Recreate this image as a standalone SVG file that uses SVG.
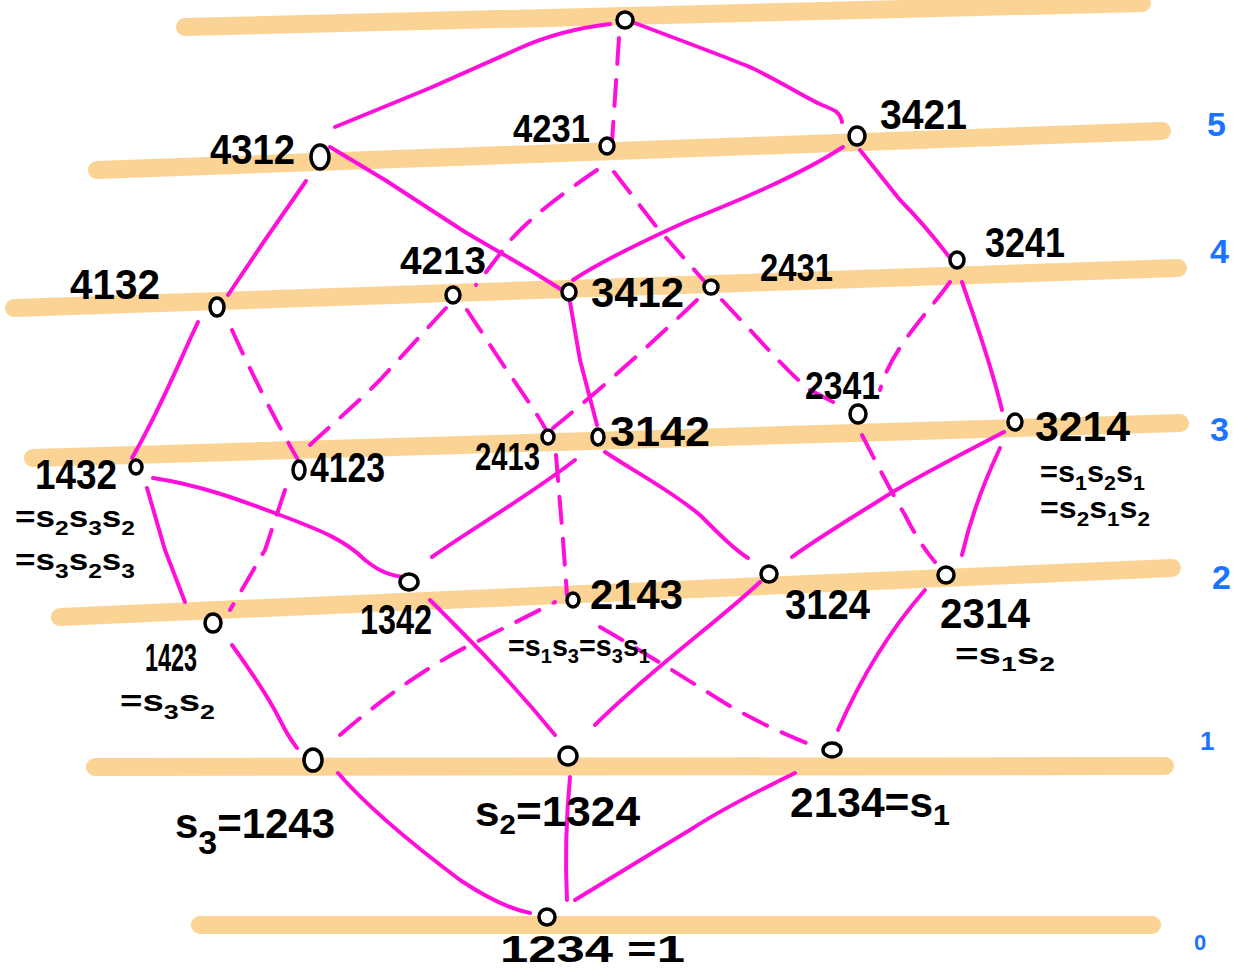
<svg xmlns="http://www.w3.org/2000/svg" width="1244" height="970" viewBox="0 0 1244 970">
<style>
.band{stroke:#FBD495;stroke-width:18;stroke-linecap:round;fill:none}
.e{stroke:#FF10DA;stroke-width:4;stroke-linecap:round;stroke-linejoin:round;fill:none}
.d{stroke-dasharray:26 16}
.n{fill:#fff;stroke:#000;stroke-width:3.5}
.t{font-family:"Liberation Sans",Arial,sans-serif;font-weight:bold;font-size:42px;fill:#000}
.m{font-size:38px}
.s{font-size:30px}
.lv{font-family:"Liberation Sans",Arial,sans-serif;font-weight:bold;font-size:34px;fill:#1A74FF}
</style>
<rect width="1244" height="970" fill="#fff"/>
<g id="bands">
<line class="band" x1="185" y1="27" x2="1142" y2="3"/>
<line class="band" x1="97" y1="170" x2="1162" y2="131"/>
<line class="band" x1="14" y1="308" x2="1178" y2="268"/>
<line class="band" x1="33" y1="458" x2="1180" y2="423"/>
<line class="band" x1="60" y1="617" x2="1172" y2="568"/>
<line class="band" x1="95" y1="767" x2="1165" y2="766"/>
<line class="band" x1="200" y1="925" x2="1152" y2="925"/>
</g>
<g id="levels">
<text class="lv" x="1207" y="136">5</text>
<text class="lv" x="1210" y="263">4</text>
<text class="lv" x="1210" y="441">3</text>
<text class="lv" x="1212" y="589">2</text>
<text class="lv" x="1200" y="750" style="font-size:26px">1</text>
<text class="lv" x="1194" y="950" style="font-size:22px">0</text>
</g>
<g id="connectors">
<path class="e" d="M610,24 Q560,30 520,48 L430,88 L335,127"/>
<path class="e d" d="M619,38 L612,142"/>
<path class="e" d="M632,22 C680,40 720,55 745,65 C770,75 800,95 822,105 C835,110 840,112 842,122"/>
<path class="e" d="M306,181 L265,240 L228,295"/>
<path class="e" d="M330,147 L385,180 L465,232 L530,270 L562,290"/>
<path class="e d" d="M597,170 C560,195 520,225 503,250 L476,285"/>
<path class="e d" d="M614,172 L655,225 L705,282"/>
<path class="e" d="M843,147 C800,175 740,200 690,220 C650,238 600,262 573,280"/>
<path class="e" d="M860,150 L900,200 C925,225 940,245 950,258"/>
<path class="e" d="M198,322 C180,360 160,410 132,458"/>
<path class="e d" d="M232,330 C250,370 275,420 297,458"/>
<path class="e d" d="M446,308 L380,380 C350,410 320,435 310,445"/>
<path class="e d" d="M467,310 L500,360 C520,390 535,410 545,428"/>
<path class="e" d="M570,302 L580,360 L597,425"/>
<path class="e d" d="M697,300 C650,345 600,390 553,428"/>
<path class="e d" d="M722,300 C760,340 790,375 810,390 L845,408"/>
<path class="e d" d="M950,282 C930,310 900,340 885,375 L880,390"/>
<path class="e" d="M962,282 C975,320 990,360 1002,410"/>
<path class="e" d="M147,488 L165,550 L185,602"/>
<path class="e" d="M153,478 C200,485 240,500 280,515 C320,530 345,540 365,560 C380,572 390,575 402,577"/>
<path class="e d" d="M285,490 L265,550 L230,610"/>
<path class="e" d="M575,460 C530,495 470,530 432,557"/>
<path class="e d" d="M556,455 L563,540 L567,595"/>
<path class="e" d="M605,452 C640,475 670,490 700,515 C720,535 735,550 748,558"/>
<path class="e d" d="M862,435 C875,460 890,490 905,515 C915,535 925,550 935,562"/>
<path class="e" d="M1004,432 C960,455 910,480 880,500 C840,525 815,540 792,557"/>
<path class="e" d="M1000,448 C985,480 970,520 962,555"/>
<path class="e" d="M232,645 C250,670 270,700 280,720 C290,740 295,745 297,748"/>
<path class="e d" d="M340,735 C380,700 430,665 470,645 C510,625 540,610 555,602"/>
<path class="e" d="M430,600 C470,640 510,680 555,735"/>
<path class="e d" d="M600,627 C640,650 680,675 720,700 C760,725 800,740 818,748"/>
<path class="e" d="M760,582 C720,620 650,670 595,725"/>
<path class="e" d="M925,590 C890,630 860,680 838,730"/>
<path class="e" d="M338,773 C370,810 420,850 460,880 C490,900 515,910 530,913"/>
<path class="e" d="M570,777 C566,820 565,860 567,900"/>
<path class="e" d="M795,773 C760,790 720,810 690,830 C640,860 600,885 575,900"/>
</g>
<g id="n4321"><ellipse class="n" cx="625" cy="20" rx="8" ry="8"/></g>
<g id="n4312"><ellipse class="n" cx="320" cy="157" rx="9" ry="12"/><text class="t" x="210" y="164" textLength="85" lengthAdjust="spacingAndGlyphs">4312</text></g>
<g id="n4231"><ellipse class="n" cx="607" cy="146" rx="7" ry="8"/><text class="t m" x="513" y="142" textLength="77" lengthAdjust="spacingAndGlyphs">4231</text></g>
<g id="n3421"><ellipse class="n" cx="857" cy="136" rx="8" ry="9"/><text class="t" x="880" y="129" textLength="87" lengthAdjust="spacingAndGlyphs">3421</text></g>
<g id="n4132"><ellipse class="n" cx="217" cy="307" rx="7" ry="9"/><text class="t" x="70" y="299" textLength="90" lengthAdjust="spacingAndGlyphs">4132</text></g>
<g id="n4213"><ellipse class="n" cx="453" cy="295" rx="7" ry="8"/><text class="t m" x="400" y="274" textLength="86" lengthAdjust="spacingAndGlyphs">4213</text></g>
<g id="n3412"><ellipse class="n" cx="569" cy="292" rx="7" ry="8"/><text class="t" x="591" y="307" textLength="93" lengthAdjust="spacingAndGlyphs">3412</text></g>
<g id="n2431"><ellipse class="n" cx="711" cy="287" rx="7" ry="7"/><text class="t m" x="760" y="281" textLength="73" lengthAdjust="spacingAndGlyphs">2431</text></g>
<g id="n3241"><ellipse class="n" cx="957" cy="260" rx="7" ry="8"/><text class="t" x="985" y="257" textLength="80" lengthAdjust="spacingAndGlyphs">3241</text></g>
<g id="n1432"><ellipse class="n" cx="136" cy="467" rx="6" ry="7"/><text class="t" x="35" y="489" textLength="82" lengthAdjust="spacingAndGlyphs">1432</text><text class="t s" x="15" y="527" textLength="120" lengthAdjust="spacingAndGlyphs">=s<tspan dy="8" font-size="21">2</tspan><tspan dy="-8">s</tspan><tspan dy="8" font-size="21">3</tspan><tspan dy="-8">s</tspan><tspan dy="8" font-size="21">2</tspan></text><text class="t s" x="15" y="570" textLength="120" lengthAdjust="spacingAndGlyphs">=s<tspan dy="8" font-size="21">3</tspan><tspan dy="-8">s</tspan><tspan dy="8" font-size="21">2</tspan><tspan dy="-8">s</tspan><tspan dy="8" font-size="21">3</tspan></text></g>
<g id="n4123"><ellipse class="n" cx="299" cy="470" rx="6" ry="9"/><text class="t" x="310" y="482" textLength="75" lengthAdjust="spacingAndGlyphs">4123</text></g>
<g id="n2413"><ellipse class="n" cx="548" cy="437" rx="6" ry="7"/><text class="t m" x="475" y="470" textLength="65" lengthAdjust="spacingAndGlyphs">2413</text></g>
<g id="n3142"><ellipse class="n" cx="598" cy="437" rx="6" ry="8"/><text class="t" x="610" y="446" textLength="100" lengthAdjust="spacingAndGlyphs">3142</text></g>
<g id="n2341"><ellipse class="n" cx="858" cy="414" rx="8" ry="9"/><text class="t m" x="805" y="399" textLength="75" lengthAdjust="spacingAndGlyphs">2341</text></g>
<g id="n3214"><ellipse class="n" cx="1015" cy="422" rx="7" ry="8"/><text class="t" x="1035" y="441" textLength="95" lengthAdjust="spacingAndGlyphs">3214</text><text class="t s" x="1040" y="482" textLength="105" lengthAdjust="spacingAndGlyphs">=s<tspan dy="8" font-size="21">1</tspan><tspan dy="-8">s</tspan><tspan dy="8" font-size="21">2</tspan><tspan dy="-8">s</tspan><tspan dy="8" font-size="21">1</tspan></text><text class="t s" x="1040" y="518" textLength="110" lengthAdjust="spacingAndGlyphs">=s<tspan dy="8" font-size="21">2</tspan><tspan dy="-8">s</tspan><tspan dy="8" font-size="21">1</tspan><tspan dy="-8">s</tspan><tspan dy="8" font-size="21">2</tspan></text></g>
<g id="n1342"><ellipse class="n" cx="409" cy="582" rx="9" ry="8"/><text class="t" x="360" y="634" textLength="72" lengthAdjust="spacingAndGlyphs">1342</text></g>
<g id="n1423"><ellipse class="n" cx="213" cy="623" rx="8" ry="9"/><text class="t m" x="145" y="671" textLength="52" lengthAdjust="spacingAndGlyphs">1423</text><text class="t s" x="120" y="711" textLength="95" lengthAdjust="spacingAndGlyphs">=s<tspan dy="8" font-size="21">3</tspan><tspan dy="-8">s</tspan><tspan dy="8" font-size="21">2</tspan></text></g>
<g id="n2143"><ellipse class="n" cx="573" cy="600" rx="6" ry="7"/><text class="t" x="590" y="609" textLength="93" lengthAdjust="spacingAndGlyphs">2143</text><text class="t s" x="508" y="656" textLength="142" lengthAdjust="spacingAndGlyphs">=s<tspan dy="7" font-size="21">1</tspan><tspan dy="-7">s</tspan><tspan dy="7" font-size="21">3</tspan><tspan dy="-7">=s</tspan><tspan dy="7" font-size="21">3</tspan><tspan dy="-7">s</tspan><tspan dy="7" font-size="21">1</tspan></text></g>
<g id="n3124"><ellipse class="n" cx="769" cy="574" rx="8" ry="8"/><text class="t" x="785" y="619" textLength="85" lengthAdjust="spacingAndGlyphs">3124</text></g>
<g id="n2314"><ellipse class="n" cx="946" cy="575" rx="8" ry="8"/><text class="t" x="940" y="628" textLength="90" lengthAdjust="spacingAndGlyphs">2314</text><text class="t s" x="955" y="664" textLength="100" lengthAdjust="spacingAndGlyphs">=s<tspan dy="7" font-size="21">1</tspan><tspan dy="-7">s</tspan><tspan dy="7" font-size="21">2</tspan></text></g>
<g id="n1243"><ellipse class="n" cx="313" cy="760" rx="9" ry="11"/><text class="t" x="175" y="838" textLength="160" lengthAdjust="spacingAndGlyphs">s<tspan dy="16" font-size="34">3</tspan><tspan dy="-16">=1243</tspan></text></g>
<g id="n1324"><ellipse class="n" cx="568" cy="756" rx="9" ry="9"/><text class="t" x="475" y="826" textLength="165" lengthAdjust="spacingAndGlyphs">s<tspan dy="8" font-size="28">2</tspan><tspan dy="-8">=1324</tspan></text></g>
<g id="n2134"><ellipse class="n" cx="832" cy="750" rx="9" ry="7"/><text class="t" x="790" y="817" textLength="160" lengthAdjust="spacingAndGlyphs">2134=s<tspan dy="8" font-size="30">1</tspan></text></g>
<g id="n1234"><ellipse class="n" cx="547" cy="917" rx="8" ry="8"/><text class="t" x="500" y="962" style="font-size:36px" textLength="185" lengthAdjust="spacingAndGlyphs">1234 =1</text></g>
</svg>
